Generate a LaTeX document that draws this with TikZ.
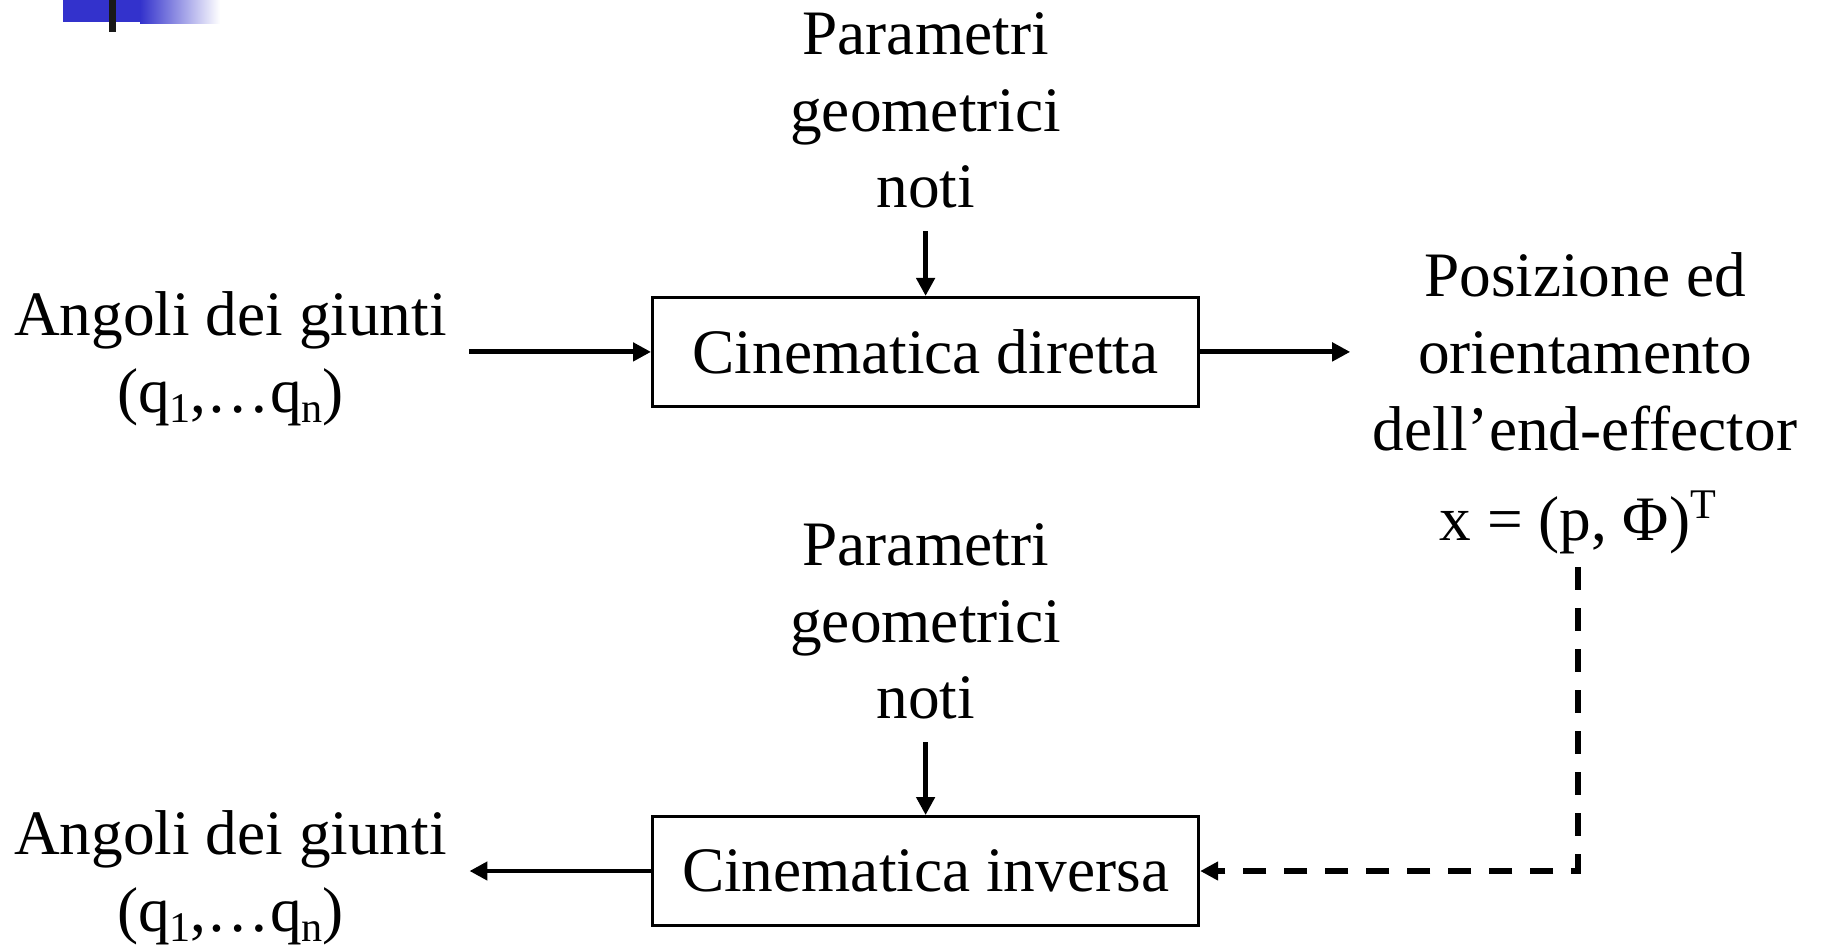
\documentclass[tikz,border=0pt]{standalone}
\usepackage{fontspec}
\setmainfont{Liberation Serif}
\usepackage{tikz}
\usetikzlibrary{arrows.meta, positioning}
\definecolor{decoblue}{RGB}{51,50,204}
\newcommand{\pedice}[1]{\raisebox{-0.35ex}{\fontsize{12}{12}\selectfont #1}}
\newcommand{\apice}[1]{\raisebox{0.75ex}{\fontsize{12}{12}\selectfont #1}}

\begin{document}
\begin{tikzpicture}[x=0.01cm, y=-0.01cm,
            txt/.style={align=center, inner sep=2.2mm, font=\fontsize{18}{21.8}\selectfont},
            box/.style={draw, line width=0.8pt, rectangle, minimum width=5.46cm, minimum height=1.09cm, font=\fontsize{18}{21.8}\selectfont},
            arr/.style={-{Triangle[length=1.8mm, width=1.8mm]}, line width=1.4pt}]
            \useasboundingbox (0,0) rectangle (1821,948);

            % decorazione in alto a sinistra
            \fill[decoblue] (63,0) rectangle (140,22);
            \shade[left color=decoblue, right color=white] (140,0) rectangle (220,23);
            \fill[black!90] (109,0) rectangle (116,32);

            \node[box] (diretta) at (925.6,351.9) {Cinematica diretta};
            \node[box] (inversa) at (925.6,871) {Cinematica inversa};

            % base = ultima riga
            \node[txt, anchor=base] (parsopra) at (925.6,207.8) {Parametri\\geometrici\\noti};
            \node[txt, anchor=base] (parsotto) at (925.6,718.8) {Parametri\\geometrici\\noti};
            \node[txt, anchor=base] (angsopra) at (230.5,412) {Angoli dei giunti\\(q\pedice{1},\ldots q\pedice{n})};
            \node[txt, anchor=base] (angsotto) at (230.5,931) {Angoli dei giunti\\(q\pedice{1},\ldots q\pedice{n})};
            \node[txt, anchor=base] (posa) at (1585,450.2) {Posizione ed\\orientamento\\dell’end-effector};
            \node[txt, anchor=base, inner sep=1.3mm] (xvec) at (1577.8,540) {x = (p, Φ)\apice{T}};

            \draw[arr] (parsopra) -- (diretta);
            \draw[arr] (parsotto) -- (inversa);
            \draw[arr] (angsopra.east |- diretta.west) -- (diretta.west);
            \draw[arr] (diretta.east) -- (posa.west |- diretta.east);
            \draw[arr] (inversa.west) -- (angsotto.east |- inversa.west);
            \draw[arr, line width=1.6pt, dash pattern=on 2.3mm off 1.8mm] (xvec.south) |- (inversa.east);
        \end{tikzpicture}
\end{document}
